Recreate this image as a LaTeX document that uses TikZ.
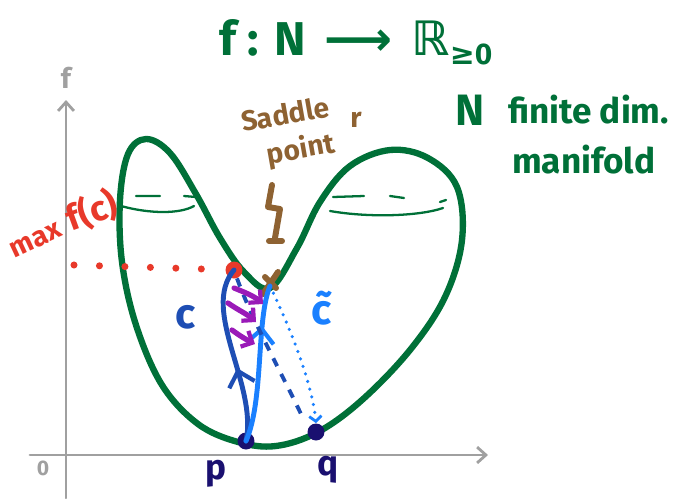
\documentclass[tikz,border=0pt]{standalone}
\usepackage{fontspec}
\setmainfont{Fira Sans}
\newfontfamily\symfont{DejaVu Sans}
\usetikzlibrary{arrows.meta, decorations.markings}

\definecolor{mgreen}{RGB}{0,112,56}
\definecolor{mred}{RGB}{232,57,42}
\definecolor{mbrown}{RGB}{142,98,50}
\definecolor{dblue}{RGB}{30,78,180}
\definecolor{lblue}{RGB}{26,128,255}
\definecolor{navy}{RGB}{26,16,112}
\definecolor{mpurple}{RGB}{154,26,184}
\definecolor{axisgray}{RGB}{160,160,160}

\begin{document}
\begin{tikzpicture}[
    x=0.02cm, y=-0.02cm,
    barb/.style={-{Straight Barb[length=5pt, width=9pt, line width=1.6pt]}},
    axis/.style={draw=axisgray, line width=1.7pt, line cap=round, barb},
    manifold/.style={draw=mgreen, line width=3.6pt},
    fold/.style={draw=mgreen, line width=1.3pt, line cap=round},
    dotnode/.style={circle, fill=#1, inner sep=0pt, minimum size=0.34cm},
    midarrow/.style={postaction={decorate}, decoration={markings,
        mark=at position #1 with {\arrow{Straight Barb[length=8pt, width=15pt, line width=2.4pt]}}}},
    path c/.style={draw=dblue, line width=2.8pt, line cap=round},
    path ct/.style={draw=lblue, line width=2.8pt, line cap=round},
    homotopy/.style={draw=mpurple, line width=3pt, line cap=round,
        -{Straight Barb[length=5pt, width=10pt, line width=2.4pt]}},
    hand/.style={font=\bfseries\fontsize{16}{18}\selectfont, inner sep=1pt}
]
\useasboundingbox (0,0) rectangle (691,498);

% axes
\coordinate (xstart) at (30,455);
\coordinate (xend) at (488,455);
\coordinate (ystart) at (66,498);
\coordinate (yend) at (66,100);
\draw[axis] (xstart) -- (xend);
\draw[axis] (ystart) -- (yend);
\node[hand, text=axisgray] (f) at (66,78) {f};
\node[hand, text=axisgray, font=\bfseries\fontsize{12}{14}\selectfont] (zero) at (43,468) {0};

% title
\node[text=mgreen, font=\bfseries\fontsize{27}{30}\selectfont] (title) at (356,42)
    {f : N \,{\symfont ⟶}\, {\symfont ℝ}\raisebox{-0.35ex}{\fontsize{17}{18}\selectfont{\symfont ≥}0}};

% the manifold N
\draw[manifold] plot[smooth cycle, tension=0.6] coordinates {
    (270,288) (244,272) (220,238) (196,194) (170,153) (146,139) (128,154)
    (120,200) (122,262) (136,325) (162,385) (198,424) (238,442) (276,446)
    (318,432) (362,400) (410,350) (445,297) (462,240) (457,187) (428,158)
    (390,150) (350,166) (320,202) (297,248)};
\draw[fold] (136,196) -- (160,196) (184,196) -- (196,197);
\draw[fold] (121,206) .. controls (150,214) and (180,214) .. (194,206);
\draw[fold] (333,197) -- (364,196) (390,196) -- (404,198) (440,202) -- (446,200);
\draw[fold] (330,211) .. controls (370,218) and (420,216) .. (443,208);

\node[text=mgreen, font=\bfseries\fontsize{25}{28}\selectfont] (N) at (470,110) {N};
\node[hand, text=mgreen, anchor=west, font=\bfseries\fontsize{20}{22}\selectfont] (finite) at (506,110) {finite dim.};
\node[hand, text=mgreen, anchor=west, font=\bfseries\fontsize{20}{22}\selectfont] (manif) at (510,160) {manifold};

% saddle point
\node[hand, text=mbrown, rotate=10] (saddle txt) at (285,114) {Saddle};
\node[hand, text=mbrown, rotate=10] (point txt) at (301,150) {point};
\node[hand, text=mbrown] (r) at (356,120) {r};
\draw[draw=mbrown, line width=3.4pt, line cap=round, line join=round]
    (272,185) -- (268,207) -- (280,209) -- (275,238) (269,241) -- (282,241);
\node[inner sep=0pt, minimum size=0.05cm] (saddle) at (270,286) {};
\draw[draw=mbrown, line width=3.4pt, line cap=round] (263,294) -- (278,272) (265,277) -- (276,288);

% max f(c)
\node[dotnode=mred] (maxpt) at (234,270) {};
\coordinate (maxstart) at (74,265);
\draw[draw=mred, line width=4pt, line cap=round, dash pattern=on 0pt off 14.5pt]
    (maxstart) -- (maxpt);
\node[hand, text=mred, rotate=25, inner sep=0pt] (maxlbl) at (36,240) {max};
\node[text=mred, rotate=20, font=\bfseries\fontsize{20}{22}\selectfont, inner sep=0pt] (fclbl) at (92,211) {f(c)};

% end points
\node[dotnode=navy] (p) at (246,441) {};
\node[dotnode=navy] (q) at (316,432) {};
\node[text=navy, font=\bfseries\fontsize{20}{22}\selectfont] (plbl) at (216,474) {p};
\node[text=navy, font=\bfseries\fontsize{20}{22}\selectfont] (qlbl) at (328,470) {q};

% paths c and c tilde
\draw[path c, midarrow=0.42] (p.center) .. controls (258,385) and (200,310) .. (maxpt.center);
\draw[path ct, midarrow=0.74] (p.center) .. controls (264,400) and (256,320) .. (saddle.center);
\coordinate (qend) at (301,414);
\draw[draw=dblue, line width=2.2pt, dash pattern=on 5pt off 5pt]
    (maxpt) .. controls (252,320) and (284,378) .. (qend);
\draw[draw=lblue, line width=2pt, line cap=round, dash pattern=on 0pt off 4.5pt,
    -{Straight Barb[length=3pt, width=7pt, line width=1.6pt]}]
    (saddle.center) .. controls (296,340) and (313,390) .. (q.north);
\node[text=dblue, font=\bfseries\fontsize{24}{26}\selectfont] (clbl) at (186,317) {c};
\node[text=lblue, font=\bfseries\fontsize{24}{26}\selectfont] (ctlbl) at (322,308) {\~{c}};

% homotopy arrows
\coordinate (h1a) at (234,288); \coordinate (h1b) at (263,304);
\coordinate (h2a) at (228,303); \coordinate (h2b) at (256,322);
\coordinate (h3a) at (232,330); \coordinate (h3b) at (255,344);
\draw[homotopy] (h1a) .. controls (244,292) and (254,296) .. (h1b);
\draw[homotopy] (h2a) .. controls (238,310) and (247,314) .. (h2b);
\draw[homotopy] (h3a) .. controls (240,336) and (247,340) .. (h3b);
\end{tikzpicture}
\end{document}
